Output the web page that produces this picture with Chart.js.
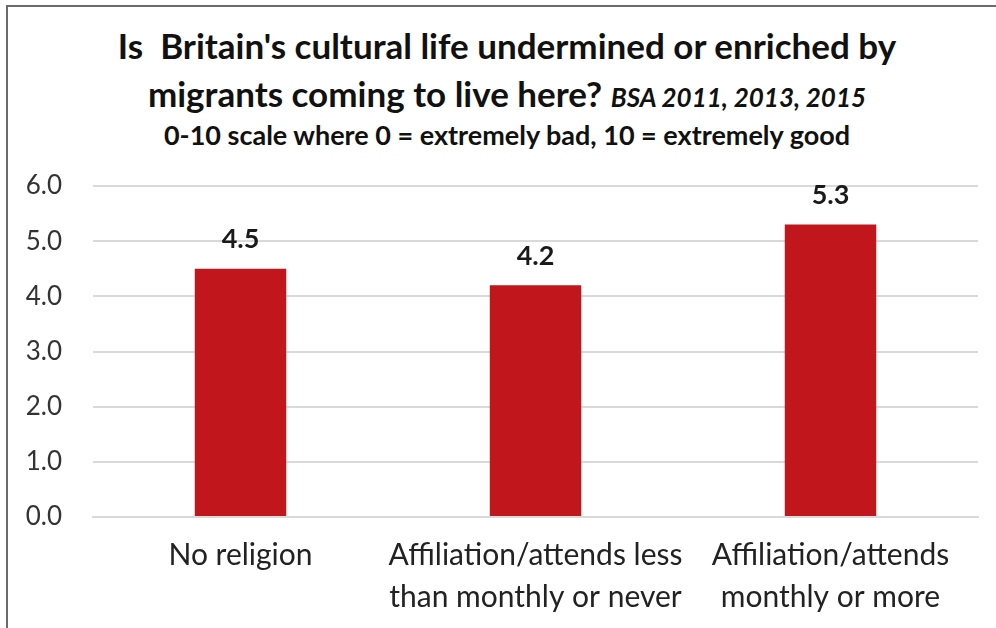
<!DOCTYPE html>
<html>
<head>
<meta charset="utf-8">
<script src="https://cdn.jsdelivr.net/npm/chart.js@4/dist/chart.umd.min.js"></script>
<style>
  html, body { margin: 0; padding: 0; background: #fff; }
  #wrap { position: relative; width: 996px; height: 628px; overflow: hidden; }
  #frame { position: absolute; left: 6px; top: 5px; width: 1000px; height: 700px;
           border-left: 2px solid #6b6b6b; border-top: 2px solid #6b6b6b; box-sizing: border-box; }
  .t { position: absolute; left: 18px; width: 978px; text-align: center; color: #111;
       font-family: Lato, "Open Sans", sans-serif; white-space: nowrap; }
  #t1 { top: 25px; font-size: 35px; font-weight: bold; line-height: 40px; }
  #t2 { top: 73px; font-size: 35px; font-weight: bold; line-height: 40px; }
  #t2 i { font-size: 26px; }
  #t3 { top: 120px; font-size: 27px; font-weight: bold; line-height: 30px; }
  canvas { position: absolute; left: 0; top: 0; }
</style>
</head>
<body>
<div id="wrap">
  <div id="frame"></div>
  <div class="t" id="t1">Is&nbsp; Britain's cultural life undermined or enriched by</div>
  <div class="t" id="t2">migrants coming to live here? <i>BSA 2011, 2013, 2015</i></div>
  <div class="t" id="t3">0-10 scale where 0 = extremely bad, 10 = extremely good</div>
  <canvas id="c" width="996" height="628"></canvas>
</div>
<script>
const categories = [
  ["No religion"],
  ["Affiliation/attends less", "than monthly or never"],
  ["Affiliation/attends", "monthly or more"]
];
const values = [4.5, 4.2, 5.3];
const yTicks = [0, 1, 2, 3, 4, 5, 6];

const FONT = 'Lato, "Open Sans", sans-serif';

const valueLabels = {
  id: 'valueLabels',
  afterDatasetsDraw(chart) {
    const ctx = chart.ctx;
    const meta = chart.getDatasetMeta(0);
    ctx.save();
    ctx.font = 'bold 27px ' + FONT;
    ctx.fillStyle = '#1a1a1a';
    ctx.textAlign = 'center';
    ctx.textBaseline = 'middle';
    meta.data.forEach((bar, i) => {
      ctx.fillText(values[i].toFixed(1), bar.x, bar.y - 29);
    });
    ctx.restore();
  }
};

new Chart(document.getElementById('c'), {
  type: 'bar',
  data: {
    labels: categories,
    datasets: [{
      data: values,
      backgroundColor: '#c0161c',
      borderWidth: 0,
      barPercentage: 0.31,
      categoryPercentage: 1.0
    }]
  },
  options: {
    responsive: false,
    animation: false,
    devicePixelRatio: 1,
    layout: { padding: { left: 0, right: 18, top: 186, bottom: 0 } },
    plugins: { legend: { display: false }, tooltip: { enabled: false }, title: { display: false } },
    scales: {
      y: {
        min: 0, max: 6,
        afterFit(scale) { scale.width = 93; },
        afterBuildTicks(scale) { scale.ticks = yTicks.map(v => ({ value: v })); },
        ticks: {
          padding: 31,
          color: '#333',
          font: { family: FONT, size: 26 },
          callback: v => Number(v).toFixed(1)
        },
        grid: { color: '#d9d9d9', lineWidth: 2, drawTicks: false },
        border: { display: false }
      },
      x: {
        afterFit(scale) { scale.height = 111; },
        ticks: {
          padding: 17,
          color: '#222',
          maxRotation: 0,
          autoSkip: false,
          font: { family: FONT, size: 30, lineHeight: 1.4 }
        },
        grid: { display: false, drawTicks: false },
        border: { display: true, color: '#d9d9d9', width: 2 }
      }
    }
  },
  plugins: [valueLabels]
});
</script>
</body>
</html>
